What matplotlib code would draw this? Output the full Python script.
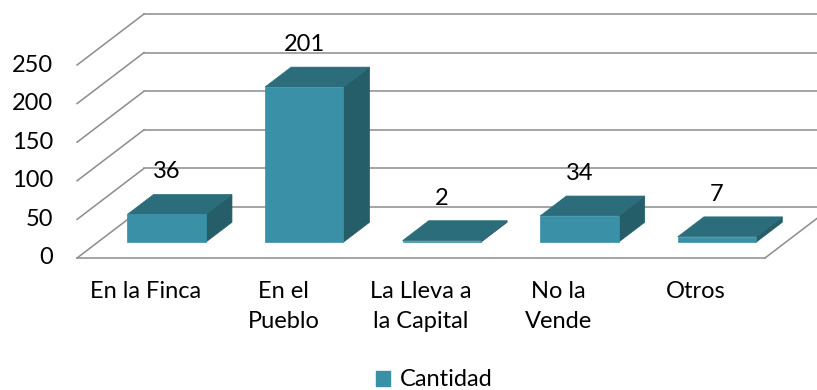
import matplotlib
matplotlib.use("Agg")
import matplotlib.pyplot as plt
from matplotlib.patches import Polygon, Patch

categories = ["En la Finca", "En el\nPueblo", "La Lleva a\nla Capital", "No la\nVende", "Otros"]
cantidad = [36, 201, 2, 34, 7]
y_ticks = [0, 50, 100, 150, 200, 250]

plt.rcParams['font.family'] = ['Lato', 'DejaVu Sans']

FRONT = "#3a90a6"
TOP = "#2c6d7c"
SIDE = "#255d69"
GRID = "#8c8c8c"
FS = 17

# oblique depth offset (category units, value units)
DX, DY = 0.487, 66.1
BAR_W = 0.57
D0, D1 = 0.31, 0.70


def proj(x, v, d):
    return (x + d * DX, v + d * DY)


fig = plt.figure(figsize=(8.17, 3.9), dpi=100)
ax = fig.add_axes([0, 0, 1, 1])
ax.set_xlim(-0.56, 5.378)
ax.set_ylim(-171, 334.2)
ax.axis("off")

n = len(categories)

# back wall gridlines and left wall diagonals
for t in y_ticks:
    bx0, by = proj(0, t, 1)
    bx1, _ = proj(n, t, 1)
    ax.plot([bx0, bx1], [by, by], color=GRID, lw=1.1, zorder=1)
    ax.plot([0, bx0], [t, by], color=GRID, lw=1.1, zorder=1)
    ax.text(-0.174, t, str(t), ha="right", va="center", fontsize=FS, color="black")

# floor: front edge and right edge
ax.plot([0, n], [0, 0], color=GRID, lw=1.1, zorder=1)
rx, ry = proj(n, 0, 1)
ax.plot([n, rx], [0, ry], color=GRID, lw=1.1, zorder=1)

for i, v in enumerate(cantidad):
    x0 = i + 0.5 - BAR_W / 2
    x1 = i + 0.5 + BAR_W / 2
    front = [proj(x0, 0, D0), proj(x1, 0, D0), proj(x1, v, D0), proj(x0, v, D0)]
    top = [proj(x0, v, D0), proj(x1, v, D0), proj(x1, v, D1), proj(x0, v, D1)]
    side = [proj(x1, 0, D0), proj(x1, 0, D1), proj(x1, v, D1), proj(x1, v, D0)]
    ax.add_patch(Polygon(side, closed=True, fc=SIDE, ec=SIDE, lw=0.5, zorder=2))
    ax.add_patch(Polygon(top, closed=True, fc=TOP, ec=TOP, lw=0.5, zorder=2))
    ax.add_patch(Polygon(front, closed=True, fc=FRONT, ec=FRONT, lw=0.5, zorder=3))
    lx, ly = proj(i + 0.5, v, D0)
    ax.text(lx, ly + 55, str(v), ha="center", va="center", fontsize=FS, zorder=4)
    ax.text(i + 0.5, -30, categories[i], ha="center", va="top", fontsize=FS,
            linespacing=1.52)

fig.legend(handles=[Patch(facecolor=FRONT, edgecolor=FRONT)], labels=["Cantidad"],
           loc="center", bbox_to_anchor=(434 / 817, 1 - 380 / 390), frameon=False,
           fontsize=FS, handlelength=0.6, handleheight=0.6, handletextpad=0.4)

fig.savefig("out.png", dpi=100)
